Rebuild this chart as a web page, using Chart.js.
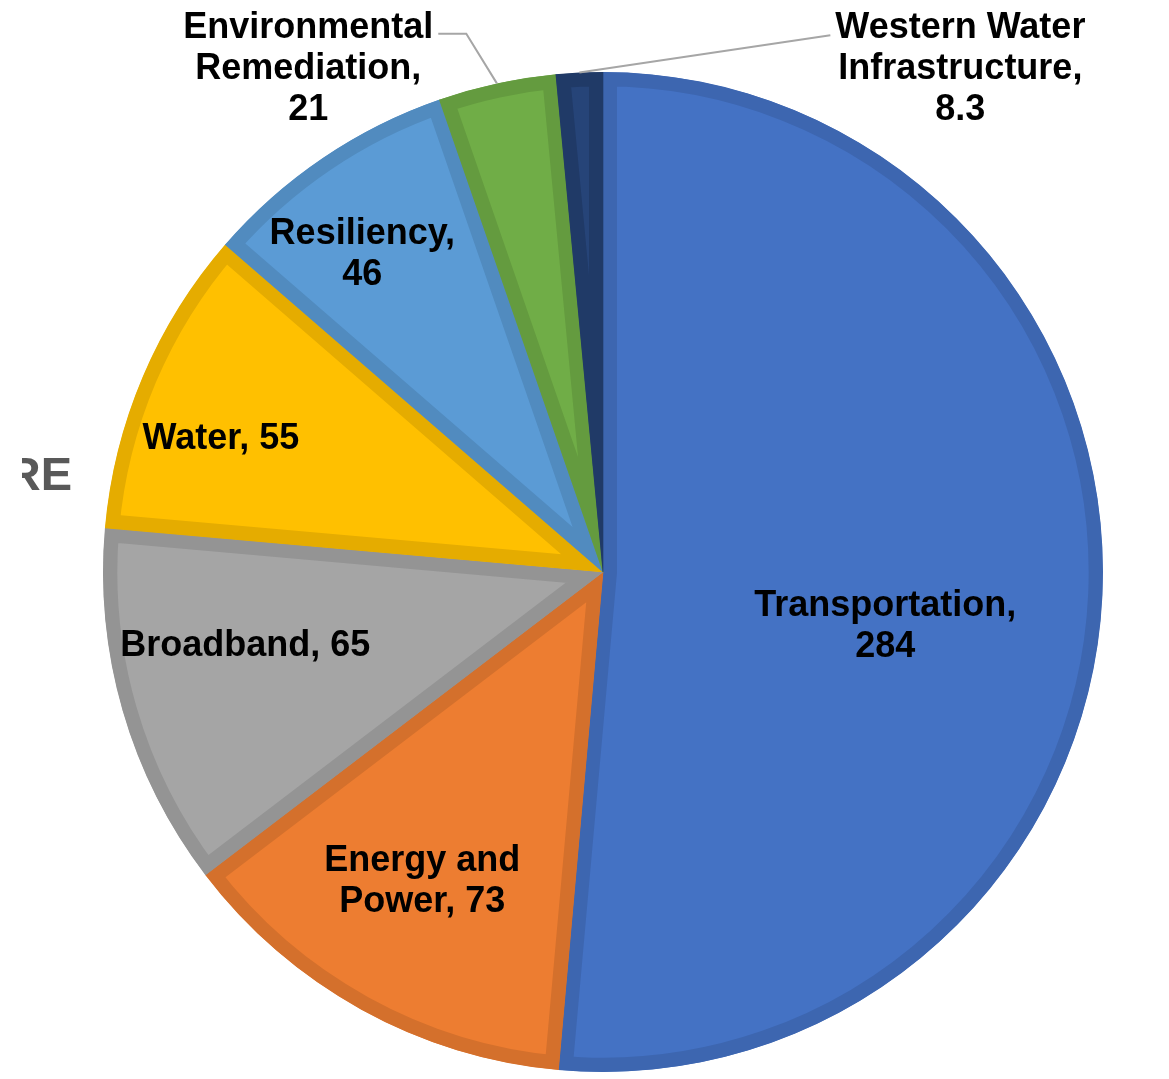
<!DOCTYPE html>
<html>
<head>
<meta charset="utf-8">
<script src="https://cdn.jsdelivr.net/npm/chart.js@4.4.1/dist/chart.umd.min.js"></script>
<style>
  body { margin: 0; background: #fff; }
  #wrap { width: 1169px; height: 1079px; }
</style>
</head>
<body>
<div id="wrap"><canvas id="pieChart" width="1169" height="1079"></canvas></div>
<script>
const categories = ['Transportation', 'Energy and Power', 'Broadband', 'Water', 'Resiliency', 'Environmental Remediation', 'Western Water Infrastructure'];
const values = [284, 73, 65, 55, 46, 21, 8.3];

const fillColors = ['#4472C4', '#ED7D31', '#A5A5A5', '#FFC000', '#5B9BD5', '#70AD47', '#264478'];
const edgeColors = ['#3D66B0', '#D4702C', '#949494', '#E5AC00', '#518BBF', '#649B3F', '#203A67'];

// where each label sits: fraction of radius, turn from slice middle (deg), wrap width
const labelSpots = [
    { dist: 0.574, turn: 7.9, wrap: 300 },
    { dist: 0.714, turn: 1.5, wrap: 220 },
    { dist: 0.73, turn: 4.7, wrap: 400 },
    { dist: 0.81, turn: -3.6, wrap: 400 },
    { dist: 0.80, turn: -2.9, wrap: 220 },
    { dist: 1.17, turn: -18, wrap: 260, leader: 'right' },
    { dist: 1.237, turn: 38, wrap: 300, leader: 'left' }
];
const lineH = 41;

function wrapText(ctx, text, maxW) {
    const words = text.split(' ');
    const lines = [];
    let cur = '';
    words.forEach(w => {
        const test = cur ? cur + ' ' + w : w;
        if (cur && ctx.measureText(test).width > maxW) {
            lines.push(cur);
            cur = w;
        } else {
            cur = test;
        }
    });
    lines.push(cur);
    return lines;
}

const sliceLabels = {
    id: 'sliceLabels',
    beforeDraw(chart) {
        // cut-off title fragment at the left edge
        const ctx = chart.ctx;
        ctx.save();
        ctx.beginPath();
        ctx.rect(22, 0, 200, 1079);
        ctx.clip();
        ctx.font = 'bold 47px "Liberation Sans", Arial, sans-serif';
        ctx.fillStyle = '#595959';
        ctx.textAlign = 'right';
        ctx.textBaseline = 'alphabetic';
        ctx.fillText('RE', 72, 490);
        ctx.restore();
    },
    afterDatasetsDraw(chart) {
        const ctx = chart.ctx;
        const arcs = chart.getDatasetMeta(0).data;
        ctx.save();
        ctx.font = 'bold 36px "Liberation Sans", Arial, sans-serif';
        ctx.textAlign = 'center';
        ctx.textBaseline = 'middle';
        arcs.forEach((arc, i) => {
            const p = arc.getProps(['x', 'y', 'startAngle', 'endAngle', 'outerRadius'], true);
            const mid = (p.startAngle + p.endAngle) / 2;
            const spot = labelSpots[i];
            const a = mid + spot.turn * Math.PI / 180;
            const r = p.outerRadius * spot.dist;
            const lx = p.x + Math.cos(a) * r;
            const ly = p.y + Math.sin(a) * r + 2;
            const lines = wrapText(ctx, categories[i] + ', ' + values[i], spot.wrap);
            const top = ly - (lines.length - 1) * lineH / 2;

            if (spot.leader) {
                const w0 = ctx.measureText(lines[0]).width;
                const ex = p.x + Math.cos(mid) * p.outerRadius;
                const ey = p.y + Math.sin(mid) * p.outerRadius;
                ctx.strokeStyle = '#A6A6A6';
                ctx.lineWidth = 2;
                ctx.beginPath();
                ctx.moveTo(ex, ey);
                if (spot.leader === 'right') {
                    const endX = lx + w0 / 2 + 5;
                    ctx.lineTo(endX + 28, top + 6);
                    ctx.lineTo(endX, top + 6);
                } else {
                    ctx.lineTo(lx - w0 / 2 - 5, top + 7);
                }
                ctx.stroke();
            }

            ctx.fillStyle = '#000';
            lines.forEach((t, k) => ctx.fillText(t, lx, top + k * lineH));
        });
        ctx.restore();
    }
};

new Chart(document.getElementById('pieChart').getContext('2d'), {
    type: 'pie',
    data: {
        labels: categories,
        datasets: [{
            data: values,
            backgroundColor: fillColors,
            borderColor: edgeColors,
            borderWidth: 14,
            borderAlign: 'inner',
            borderJoinStyle: 'miter',
            hoverOffset: 0,
            radius: 500
        }]
    },
    options: {
        responsive: false,
        animation: false,
        layout: {
            padding: { left: 103, right: 66, top: 72, bottom: 7 }
        },
        plugins: {
            legend: { display: false },
            tooltip: { enabled: false }
        }
    },
    plugins: [sliceLabels]
});
</script>
</body>
</html>
